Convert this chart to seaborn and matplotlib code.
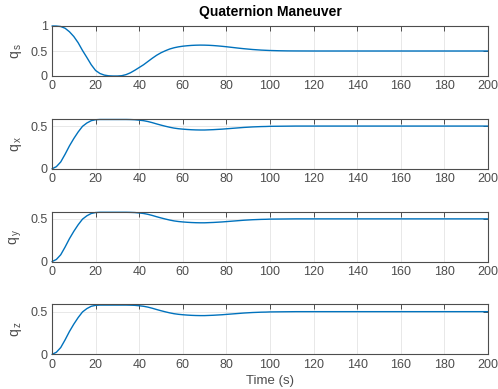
import matplotlib
matplotlib.use("Agg")
import matplotlib.pyplot as plt
import seaborn as sns
import pandas as pd

# Time samples (s)
time_s = [0, 2, 4, 6, 8, 10, 12, 14, 16, 18, 20, 22, 24, 26, 28, 30, 32, 34, 36, 38,
          40, 42, 44, 46, 48, 50, 52, 54, 56, 58, 60, 62, 64, 66, 68, 70, 72, 74, 76, 78,
          80, 82, 84, 86, 88, 90, 92, 94, 96, 98, 100, 104, 108, 112, 120, 200]

# Scalar part of the attitude quaternion
q_s = [1.000, 0.999, 0.990, 0.955, 0.885, 0.790, 0.665, 0.510, 0.370, 0.225,
       0.110, 0.050, 0.018, 0.004, 0.000, 0.000, 0.006, 0.028, 0.065, 0.115,
       0.170, 0.225, 0.290, 0.355, 0.415, 0.465, 0.505, 0.540, 0.565, 0.583,
       0.596, 0.605, 0.612, 0.616, 0.618, 0.617, 0.614, 0.609, 0.602, 0.594,
       0.585, 0.575, 0.565, 0.555, 0.546, 0.538, 0.530, 0.524, 0.518, 0.514,
       0.510, 0.505, 0.502, 0.501, 0.500, 0.500]

# Vector part (the three components coincide for this maneuver)
q_x = [0.000, 0.025, 0.080, 0.170, 0.268, 0.354, 0.431, 0.497, 0.536, 0.563,
       0.574, 0.577, 0.577, 0.577, 0.577, 0.577, 0.577, 0.577, 0.576, 0.574,
       0.569, 0.563, 0.553, 0.540, 0.525, 0.511, 0.498, 0.486, 0.476, 0.469,
       0.464, 0.460, 0.457, 0.455, 0.454, 0.454, 0.456, 0.458, 0.461, 0.464,
       0.468, 0.472, 0.476, 0.480, 0.484, 0.487, 0.490, 0.492, 0.494, 0.495,
       0.497, 0.498, 0.499, 0.500, 0.500, 0.500]
q_y = list(q_x)
q_z = list(q_x)

x_ticks = [0, 20, 40, 60, 80, 100, 120, 140, 160, 180, 200]
x_tick_labels = [str(v) for v in x_ticks]

panel_names = ["s", "x", "y", "z"]
panel_series = [q_s, q_x, q_y, q_z]
panel_ylims = [(0, 1), (0, 0.585), (0, 0.585), (0, 0.585)]
panel_yticks = [[0, 0.5, 1], [0, 0.5], [0, 0.5], [0, 0.5]]
panel_ytick_labels = [["0", "0.5", "1"], ["0", "0.5"], ["0", "0.5"], ["0", "0.5"]]

sns.set_theme(style="white")
plt.rcParams["font.family"] = ["Liberation Sans", "DejaVu Sans"]
plt.rcParams["mathtext.fontset"] = "custom"
plt.rcParams["mathtext.rm"] = "Liberation Sans"
plt.rcParams["mathtext.it"] = "Liberation Sans"

LINE = "#0072BD"
AXC = "#4D4D4D"
TXT = "#4D4D4D"
GRID = "#E8E8E8"

fig = plt.figure(figsize=(4.98, 3.89), dpi=100)

W, H = 498.0, 389.0
left_px, right_px = 52.0, 488.0
bottoms_px = [76.0, 168.8, 261.6, 354.4]
height_px = 50.0

for i, (name, vals) in enumerate(zip(panel_names, panel_series)):
    b = bottoms_px[i]
    ax = fig.add_axes([left_px / W, 1 - b / H, (right_px - left_px) / W, height_px / H])
    df = pd.DataFrame({"t": time_s, "q": vals})
    sns.lineplot(data=df, x="t", y="q", ax=ax, color=LINE, linewidth=1.0)
    for ln in ax.lines:
        ln.set_clip_on(False)
    ax.set_xlim(0, 200)
    ax.set_ylim(*panel_ylims[i])
    ax.set_xticks(x_ticks)
    ax.set_xticklabels(x_tick_labels)
    ax.set_yticks(panel_yticks[i])
    ax.set_yticklabels(panel_ytick_labels[i])
    ax.grid(True, color=GRID, linewidth=0.7)
    ax.set_axisbelow(True)
    for sp in ax.spines.values():
        sp.set_color(AXC)
        sp.set_linewidth(0.8)
        sp.set_visible(True)
    ax.tick_params(axis="both", direction="in", length=3.5, width=0.7, color=AXC,
                   labelcolor=TXT, labelsize=9, top=True, right=True, pad=3)
    ax.set_ylabel(r"$\mathregular{q_{\,%s}}$" % name, color=TXT, fontsize=10, labelpad=5)
    ax.set_xlabel("")
    if i == 0:
        ax.set_title("Quaternion Maneuver", fontsize=10, fontweight="bold", color="black", pad=7)
    if i == 3:
        ax.set_xlabel("Time (s)", color=TXT, fontsize=9.5, labelpad=3)

fig.savefig("out.png", dpi=100)
